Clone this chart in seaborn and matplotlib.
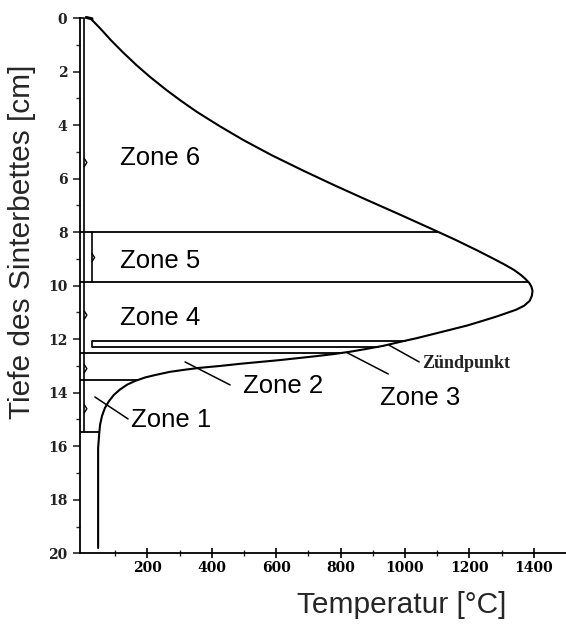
import numpy as np
import pandas as pd
import matplotlib
matplotlib.use("Agg")
import matplotlib.pyplot as plt
import seaborn as sns

# ---- data ----
# temperature profile (°C) versus depth of the sinter bed (cm)
temp = [22, 52, 86, 123, 166, 208, 259, 305, 354, 423, 498, 585, 680, 779,
        882, 987, 1090, 1157, 1222, 1271, 1312, 1338, 1360, 1374, 1386, 1393,
        1396, 1394, 1387, 1370, 1345, 1314, 1280, 1245, 1193, 1140, 1087,
        1037, 985, 932, 882, 829, 776, 727, 674, 612, 550, 488, 426, 363, 317,
        270, 224, 193, 162, 137, 115, 96, 81, 68, 59, 53, 50, 47, 47]
depth = [0.0, 0.37, 0.82, 1.27, 1.76, 2.20, 2.69, 3.10, 3.51, 4.03, 4.56,
         5.12, 5.68, 6.24, 6.80, 7.36, 7.92, 8.29, 8.67, 8.97, 9.23, 9.41,
         9.60, 9.75, 9.90, 10.05, 10.20, 10.38, 10.57, 10.75, 10.90, 11.03,
         11.17, 11.30, 11.49, 11.65, 11.81, 11.96, 12.10, 12.25, 12.36, 12.47,
         12.56, 12.63, 12.70, 12.78, 12.85, 12.92, 13.00, 13.07, 13.14, 13.22,
         13.34, 13.43, 13.56, 13.70, 13.88, 14.08, 14.31, 14.57, 14.87, 15.20,
         15.58, 16.06, 19.80]

# zone boundary lines: depth, start temperature, end temperature
bound_depth = [8.0, 9.85, 12.05, 12.28, 12.51, 13.52, 15.45]
bound_start = [-9.3, -9.3, 28, 28, -9.3, -9.3, -9.3]
bound_end = [1104, 1382, 1003, 918, 806, 171, 51]

# zone labels
zone_names = ["Zone 6", "Zone 5", "Zone 4", "Zone 2", "Zone 3", "Zone 1"]
zone_T = [239, 239, 239, 622, 1048, 274]
zone_d = [5.23, 9.08, 11.21, 13.75, 14.19, 15.02]

# leader lines (from curve to label)
lead_T0 = [37, 317, 821, 950]
lead_T1 = [140, 457, 948, 1044]
lead_d0 = [14.16, 12.85, 12.51, 12.22]
lead_d1 = [14.98, 13.71, 13.30, 12.85]

# small brace marks on the left bracket lines
brace_T = [4, 4, 4, 4, 28]
brace_d = [5.4, 11.1, 13.1, 14.6, 8.95]

xticks = [200, 400, 600, 800, 1000, 1200, 1400]
xminor = [100, 300, 500, 700, 900, 1100, 1300]
yticks = list(range(0, 21, 2))
yminor = list(range(1, 20, 2))

# ---- drawing ----
sns.set_theme(style="ticks")
plt.rcParams["font.family"] = ["Liberation Sans", "DejaVu Sans"]

fig = plt.figure(figsize=(5.66, 6.26), dpi=100)
ax = fig.add_axes([80 / 566, 1 - 553.3 / 626, 486 / 566, (553.3 - 18) / 626])

df = pd.DataFrame({"T": temp, "d": depth})
sns.lineplot(data=df, x="T", y="d", sort=False, estimator=None,
             color="black", lw=1.5, ax=ax)

# boundary lines
for d, t0, t1 in zip(bound_depth, bound_start, bound_end):
    ax.plot([t0, t1], [d, d], color="black", lw=1.3, solid_capstyle="butt")

# left double line / brackets
ax.plot([4, 4], [0, bound_depth[-1]], color="black", lw=1.2)
ax.plot([-9.3, 4], [0, 0], color="black", lw=1.2, clip_on=False)
ax.plot([28, 28], [bound_depth[0], bound_depth[1]], color="black", lw=1.2)
ax.plot([28, 28], [bound_depth[2], bound_depth[3]], color="black", lw=1.2)
ax.plot([10, 28], [-0.02, 0.03], color="black", lw=2.2, clip_on=False)
for t, d in zip(brace_T, brace_d):
    ax.plot([t, t + 8, t], [d - 0.15, d, d + 0.15], color="black", lw=1.0)

# leader lines
for a, b, c, e in zip(lead_T0, lead_T1, lead_d0, lead_d1):
    ax.plot([a, b], [c, e], color="black", lw=1.1)

for name, t, d in zip(zone_names, zone_T, zone_d):
    ax.text(t, d, name, fontsize=18.5, ha="center", va="center", color="black")

ax.text(1054, 12.92, "Zündpunkt", fontsize=13, ha="left", va="center",
        family="Liberation Serif", fontweight="bold", color="#222222")

ax.set_xlim(-9.3, 1500)
ax.set_ylim(20, 0)
ax.set_xticks(xticks)
ax.set_xticks(xminor, minor=True)
ax.set_yticks(yticks)
ax.set_yticks(yminor, minor=True)
ax.set_xticklabels([str(v) for v in xticks])
ax.set_yticklabels([str(v) for v in yticks])

for lab in ax.get_xticklabels() + ax.get_yticklabels():
    lab.set_family("DejaVu Serif")
    lab.set_fontweight("bold")
    lab.set_fontsize(10)
    lab.set_color("#222222")

ax.tick_params(axis="x", which="major", direction="inout", length=7, width=1.2,
               pad=2, colors="black")
ax.tick_params(axis="x", which="minor", direction="inout", length=4, width=1.0)
ax.tick_params(axis="y", which="major", direction="out", length=5, width=1.2,
               pad=4)
ax.tick_params(axis="y", which="minor", direction="out", length=3, width=1.0)

sns.despine(ax=ax)
for s in ["left", "bottom"]:
    ax.spines[s].set_color("black")
    ax.spines[s].set_linewidth(1.3)

ax.set_xlabel("Temperatur [°C]", fontsize=21.5, va="center", ha="center")
ax.xaxis.set_label_coords((402 - 80) / 486, (553.3 - 605) / 535.3)
ax.set_ylabel("Tiefe des Sinterbettes [cm]", fontsize=21.5, va="center", ha="center")
ax.yaxis.set_label_coords((22 - 80) / 486, (553.3 - 242) / 535.3)

fig.savefig("out.png", dpi=100)
